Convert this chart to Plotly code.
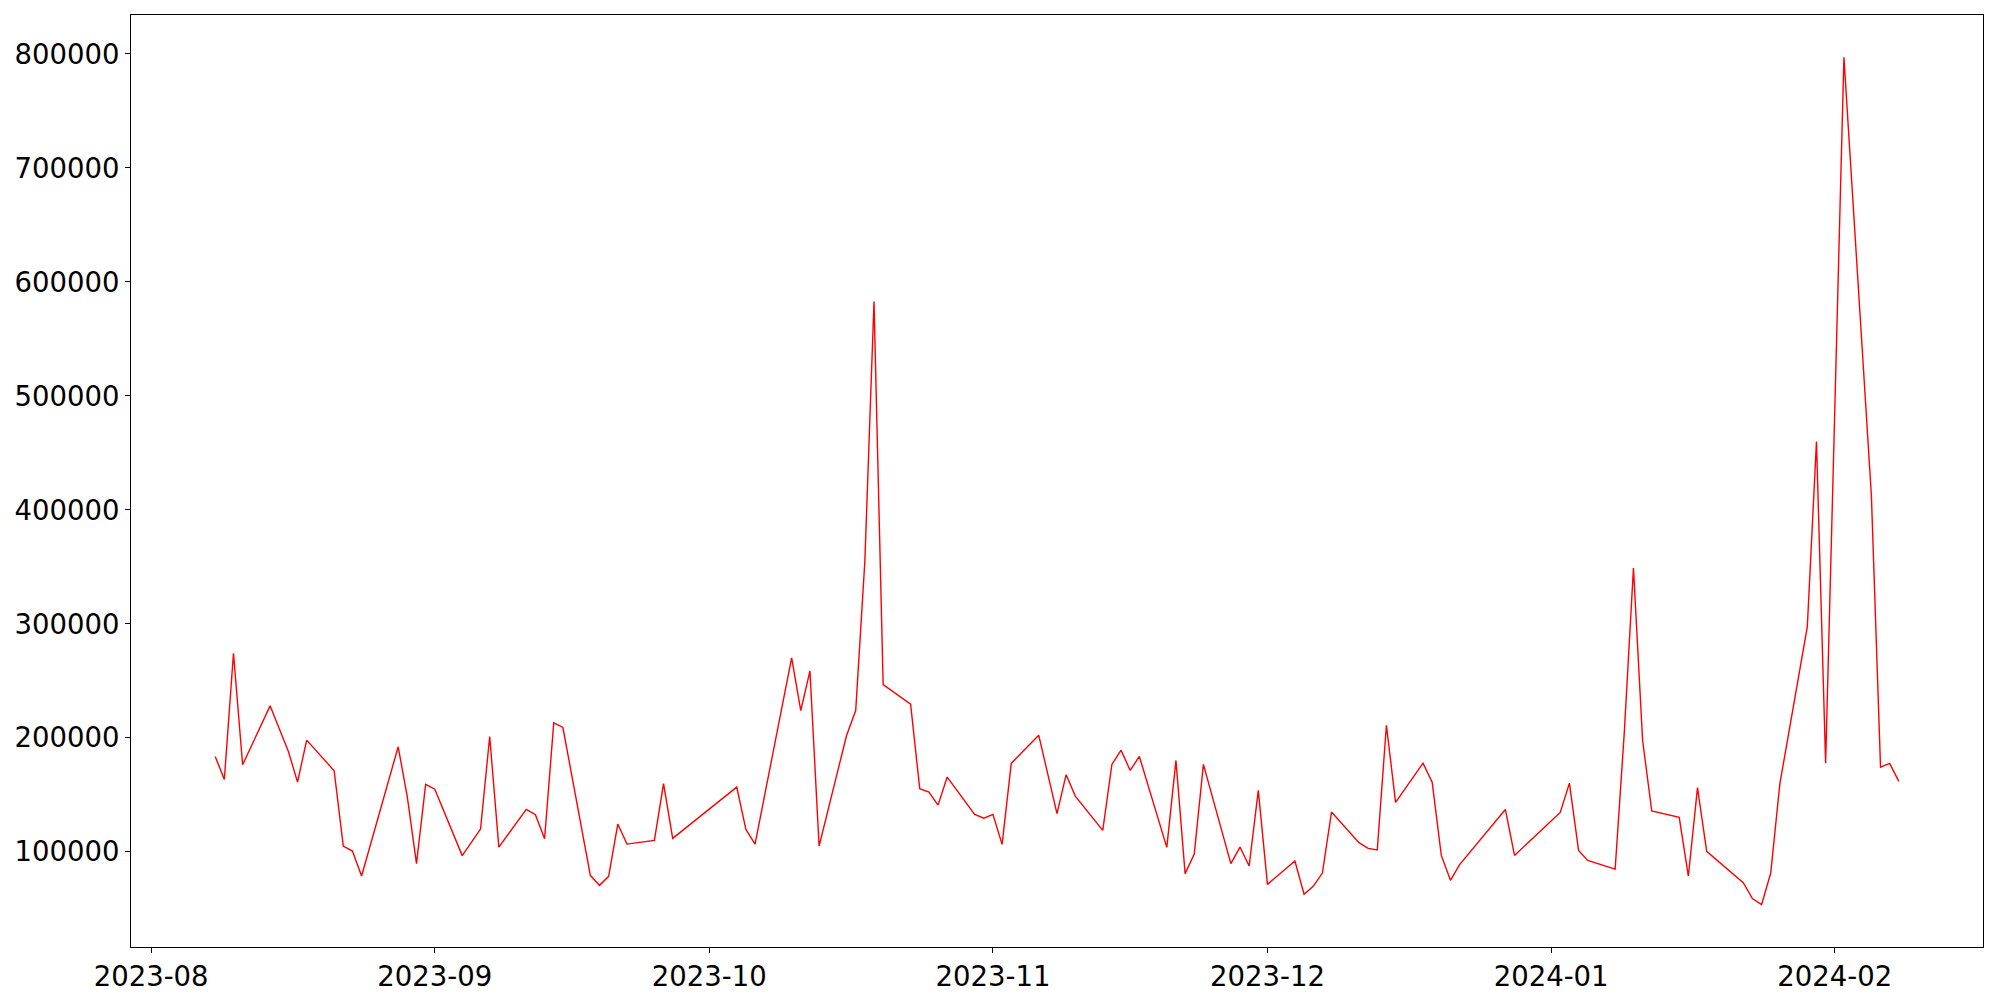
import pandas as pd
import plotly.graph_objects as go

dates = [
    "2023-08-08", "2023-08-09", "2023-08-10", "2023-08-11", "2023-08-14", "2023-08-16",
    "2023-08-17", "2023-08-18", "2023-08-21", "2023-08-22", "2023-08-23", "2023-08-24",
    "2023-08-28", "2023-08-29", "2023-08-30", "2023-08-31", "2023-09-01", "2023-09-04",
    "2023-09-06", "2023-09-07", "2023-09-08", "2023-09-11", "2023-09-12", "2023-09-13",
    "2023-09-14", "2023-09-15", "2023-09-18", "2023-09-19", "2023-09-20", "2023-09-21",
    "2023-09-22", "2023-09-25", "2023-09-26", "2023-09-27", "2023-10-04", "2023-10-05",
    "2023-10-06", "2023-10-10", "2023-10-11", "2023-10-12", "2023-10-13", "2023-10-16",
    "2023-10-17", "2023-10-18", "2023-10-19", "2023-10-20", "2023-10-23", "2023-10-24",
    "2023-10-25", "2023-10-26", "2023-10-27", "2023-10-30", "2023-10-31", "2023-11-01",
    "2023-11-02", "2023-11-03", "2023-11-06", "2023-11-08", "2023-11-09", "2023-11-10",
    "2023-11-13", "2023-11-14", "2023-11-15", "2023-11-16", "2023-11-17", "2023-11-20",
    "2023-11-21", "2023-11-22", "2023-11-23", "2023-11-24", "2023-11-27", "2023-11-28",
    "2023-11-29", "2023-11-30", "2023-12-01", "2023-12-04", "2023-12-05", "2023-12-06",
    "2023-12-07", "2023-12-08", "2023-12-11", "2023-12-12", "2023-12-13", "2023-12-14",
    "2023-12-15", "2023-12-18", "2023-12-19", "2023-12-20", "2023-12-21", "2023-12-22",
    "2023-12-27", "2023-12-28", "2024-01-02", "2024-01-03", "2024-01-04", "2024-01-05",
    "2024-01-08", "2024-01-09", "2024-01-10", "2024-01-11", "2024-01-12", "2024-01-15",
    "2024-01-16", "2024-01-17", "2024-01-18", "2024-01-22", "2024-01-23", "2024-01-24",
    "2024-01-25", "2024-01-26", "2024-01-29", "2024-01-30", "2024-01-31", "2024-02-02",
    "2024-02-05", "2024-02-06", "2024-02-07", "2024-02-08",
]

values = [
    183700, 163500, 274200, 176400, 228100, 188100,
    161200, 198000, 171200, 105100, 100700, 78800,
    192200, 148000, 89700, 159200, 155000, 96700,
    120000, 201200, 104200, 137200, 132600, 111500,
    213200, 209100, 79400, 70600, 78500, 124400,
    106800, 110100, 159800, 111800, 156800, 119700,
    106800, 270200, 224000, 258800, 105100, 202100,
    224000, 355000, 582700, 246800, 229500, 155400,
    152400, 141000, 165600, 132900, 129600, 132900,
    106600, 177600, 202400, 133500, 167700, 148900,
    118800, 176700, 189200, 171400, 183700, 103900,
    180200, 80900, 98100, 176700, 89700, 104200,
    87600, 153900, 71500, 91900, 62800, 69800,
    81400, 134900, 108100, 103100, 101600, 211100,
    143400, 177800, 161200, 96900, 75000, 88800,
    137200, 96900, 134600, 160300, 101300, 92500,
    84900, 205000, 349000, 197700, 135800, 130200,
    78800, 156300, 100400, 73000, 59000, 53700,
    81400, 159800, 297600, 460000, 177800, 797000,
    413000, 174300, 177600, 161800,
]

x = pd.to_datetime(dates)

# matplotlib style 5% autoscale margins
x_pad = (x.max() - x.min()) * 0.05
y_pad = (max(values) - min(values)) * 0.05

fig = go.Figure()
fig.add_trace(go.Scatter(x=x, y=values, mode="lines", line=dict(color="red", width=1.4)))

axis_style = dict(
    showgrid=False,
    zeroline=False,
    showline=True,
    linecolor="black",
    linewidth=1,
    mirror=True,
    ticks="outside",
    ticklen=5,
    tickwidth=1,
    tickcolor="black",
)

# page body adds an 8px margin, so the figure is a bit smaller than the window
fig.update_layout(
    width=1992,
    height=992,
    paper_bgcolor="white",
    plot_bgcolor="white",
    font=dict(family="DejaVu Sans", size=27.5, color="black"),
    margin=dict(l=123, r=17, t=7, b=53),
    showlegend=False,
)
fig.update_xaxes(
    range=[x.min() - x_pad, x.max() + x_pad],
    dtick="M1",
    tick0="2023-08-01",
    tickformat="%Y-%m",
    **axis_style,
)
fig.update_yaxes(
    range=[min(values) - y_pad, max(values) + y_pad],
    dtick=100000,
    tickformat="d",
    **axis_style,
)

fig.write_html("out.html")
